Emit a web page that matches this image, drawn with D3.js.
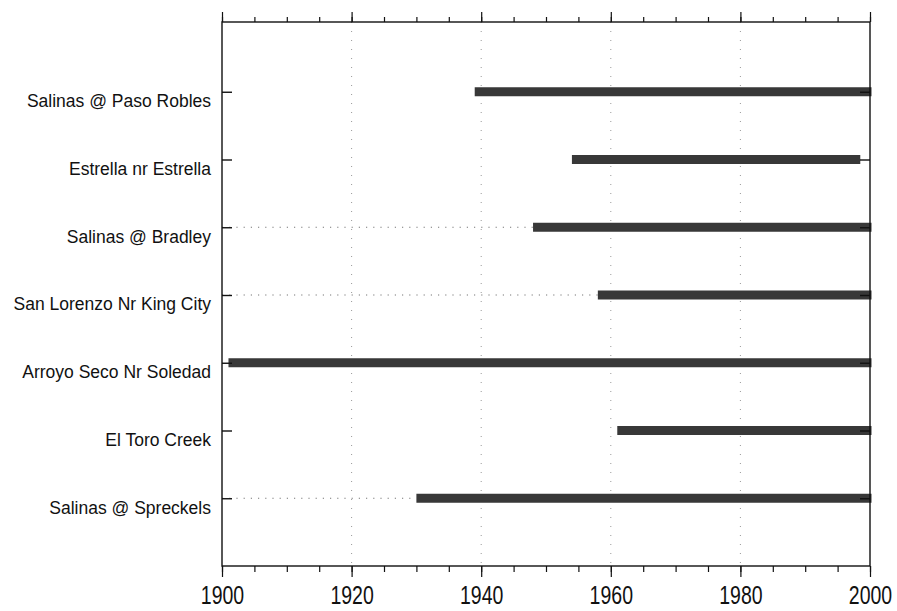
<!DOCTYPE html>
<html>
<head>
<meta charset="utf-8">
<script src="https://cdn.jsdelivr.net/npm/d3@7/dist/d3.min.js"></script>
<style>
  html, body { margin: 0; padding: 0; background: #fff; }
  svg { display: block; }
  text { font-family: Arial, "Liberation Sans", Helvetica, sans-serif; fill: #111; }
</style>
</head>
<body>
<svg id="chart" width="897" height="611"></svg>
<script>
// Gauging stations, top to bottom
const stations = [
  "Salinas @ Paso Robles",
  "Estrella nr Estrella",
  "Salinas @ Bradley",
  "San Lorenzo Nr King City",
  "Arroyo Seco Nr Soledad",
  "El Toro Creek",
  "Salinas @ Spreckels"
];
// Continuous record period (start year, end year)
const recordStart = [1939, 1954, 1948, 1958, 1901, 1961, 1930];
const recordEnd   = [2000, 1998.5, 2000, 2000, 2000, 2000, 2000];
// Earlier intermittent record (dotted), null where none
const sparseStart = [null, null, 1900, 1900, null, null, 1900];
// Year axis ticks
const majorYears = [1900, 1920, 1940, 1960, 1980, 2000];
const minorYears = d3.range(1900, 2001, 5);
const gridYears  = [1920, 1940, 1960, 1980];

const svg = d3.select("#chart");
const plotL = 222, plotR = 870, plotT = 22, plotB = 566;

const x = d3.scaleLinear().domain([1900, 2000]).range([plotL, plotR]);
const y = d3.scalePoint().domain(stations).range([plotT + 2, plotB]).padding(1);

// dotted vertical grid
svg.append("g").selectAll("line").data(gridYears).join("line")
  .attr("x1", d => x(d)).attr("x2", d => x(d))
  .attr("y1", plotT).attr("y2", plotB)
  .attr("stroke", "#999").attr("stroke-width", 1)
  .attr("stroke-dasharray", "1,8");

// dotted leaders for intermittent early records
const rows = stations.map((s, i) => ({ s, a: recordStart[i], b: recordEnd[i], p: sparseStart[i] }));
svg.append("g").selectAll("line").data(rows.filter(r => r.p !== null)).join("line")
  .attr("x1", r => x(r.p)).attr("x2", r => x(r.a))
  .attr("y1", r => y(r.s)).attr("y2", r => y(r.s))
  .attr("stroke", "#777").attr("stroke-width", 1.2)
  .attr("stroke-dasharray", "1.2,6");

// record bars
svg.append("g").selectAll("rect").data(rows).join("rect")
  .attr("x", r => x(r.a))
  .attr("width", r => x(r.b) - x(r.a) + (r.b === 2000 ? 1.5 : 0))
  .attr("y", r => y(r.s) - 4.5)
  .attr("height", 9)
  .attr("fill", "#383838");

// frame
svg.append("rect")
  .attr("x", plotL).attr("y", plotT).attr("width", plotR - plotL).attr("height", plotB - plotT)
  .attr("stroke", "#111").attr("stroke-width", 1.4).attr("fill", "none");

// top axis: minor and major ticks pointing outward
const topAxisMinor = d3.axisTop(x).tickValues(minorYears).tickSize(5).tickFormat("");
const topAxisMajor = d3.axisTop(x).tickValues(majorYears).tickSize(10).tickFormat("");
[topAxisMinor, topAxisMajor].forEach(ax => {
  const g = svg.append("g").attr("transform", `translate(0,${plotT})`).call(ax);
  g.select(".domain").remove();
  g.selectAll("line").attr("stroke", "#111").attr("stroke-width", 1.2);
});

// bottom axis; year labels set in a tall face
const botAxisMinor = d3.axisBottom(x).tickValues(minorYears).tickSize(6).tickFormat("");
const botAxisMajor = d3.axisBottom(x).tickValues(majorYears).tickSize(11).tickFormat(d3.format("d"));
[botAxisMinor, botAxisMajor].forEach(ax => {
  const g = svg.append("g").attr("transform", `translate(0,${plotB})`).call(ax);
  g.select(".domain").remove();
  g.selectAll("line").attr("stroke", "#111").attr("stroke-width", 1.2);
  g.selectAll("text")
    .attr("y", 0).attr("dy", 0)
    .attr("transform", "translate(0,38) scale(1,1.32)")
    .attr("font-size", 19.5)
    .attr("font-family", "Arial, 'Liberation Sans', sans-serif").attr("fill", "#111");
});

// left axis: inward ticks, labels outside
const yl = svg.append("g").attr("transform", `translate(${plotL},0)`)
  .call(d3.axisLeft(y).tickSizeInner(-10).tickSizeOuter(0));
yl.select(".domain").remove();
yl.selectAll("line").attr("stroke", "#111").attr("stroke-width", 1.4);
yl.selectAll("text").attr("font-size", 17.5).attr("dy", "0.85em").attr("x", -11)
  .attr("font-family", "Arial, 'Liberation Sans', sans-serif").attr("fill", "#111");

// right axis: inward ticks only
const yr = svg.append("g").attr("transform", `translate(${plotR},0)`)
  .call(d3.axisRight(y).tickSizeInner(-10).tickSizeOuter(0).tickFormat(""));
yr.select(".domain").remove();
yr.selectAll("line").attr("stroke", "#111").attr("stroke-width", 1.4);
</script>
</body>
</html>
